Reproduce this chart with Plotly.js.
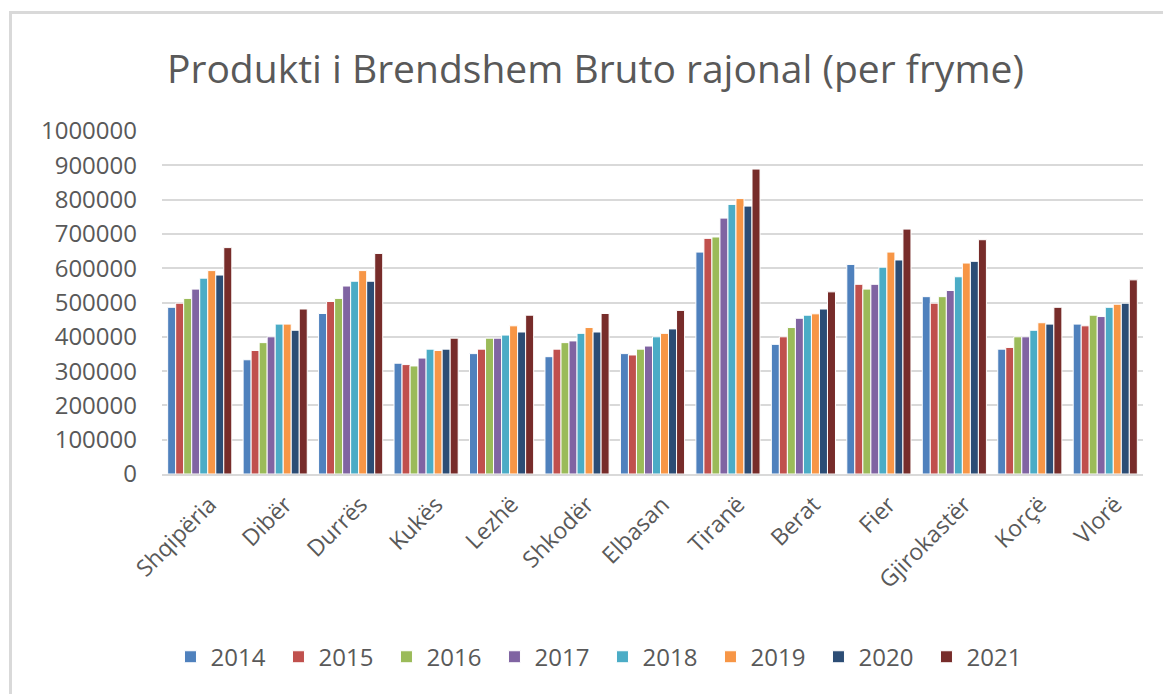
<!DOCTYPE html>
<html>
<head>
<meta charset="utf-8">
<script src="https://cdn.plot.ly/plotly-3.0.1.min.js"></script>
<style>
html,body{margin:0;padding:0;background:#fff;}
#wrap{position:relative;width:1163px;height:694px;overflow:hidden;}
#chart{position:absolute;left:0;top:0;width:1163px;height:694px;}
#frame{position:absolute;left:9px;top:11px;width:1200px;height:700px;border-left:3px solid #D9D9D9;border-top:3px solid #D9D9D9;pointer-events:none;}
</style>
</head>
<body>
<div id="wrap"><div id="chart"></div><div id="frame"></div></div>
<script>
const categories = ["Shqipëria","Dibër","Durrës","Kukës","Lezhë","Shkodër","Elbasan","Tiranë","Berat","Fier","Gjirokastër","Korçë","Vlorë"];
const years = ["2014","2015","2016","2017","2018","2019","2020","2021"];
const v2014 = [486000,333000,468000,323000,351000,342000,351000,647000,378000,611000,517000,364000,437000];
const v2015 = [498000,360000,503000,319000,364000,364000,347000,687000,400000,553000,498000,369000,432000];
const v2016 = [512000,383000,512000,315000,396000,383000,364000,691000,427000,539000,517000,400000,463000];
const v2017 = [539000,400000,548000,338000,396000,388000,373000,746000,454000,553000,535000,400000,459000];
const v2018 = [571000,437000,562000,364000,405000,410000,400000,786000,463000,603000,575000,419000,486000];
const v2019 = [593000,437000,593000,360000,432000,427000,410000,803000,467000,647000,615000,441000,495000];
const v2020 = [580000,419000,562000,364000,414000,414000,423000,781000,481000,624000,620000,437000,498000];
const v2021 = [660000,481000,643000,396000,463000,468000,477000,889000,531000,714000,683000,486000,566000];
const seriesValues = [v2014,v2015,v2016,v2017,v2018,v2019,v2020,v2021];
const colors = ["#4F81BD","#C0504D","#9BBB59","#8064A2","#4BACC6","#F79646","#2C4D75","#772C2A"];

const FONT = "Open Sans, Noto Sans, sans-serif";
const traces = years.map((y,i)=>({
  type:"bar", name:y, x:categories, y:seriesValues[i],
  marker:{color:colors[i], line:{color:"#ffffff", width:1}},
  hoverinfo:"x+y+name"
}));

const layout = {
  width:1163, height:694,
  margin:{l:162, r:20, t:131, b:220},
  paper_bgcolor:"#ffffff", plot_bgcolor:"#ffffff",
  barmode:"group", bargap:0.15, bargroupgap:0,
  font:{family:FONT, color:"#595959", size:24},
  title:{text:"Produkti i Brendshem Bruto rajonal (per fryme)", xref:"container", x:0.512, xanchor:"center", yref:"container", y:0.9, yanchor:"middle", font:{family:FONT, size:39, color:"#595959"}},
  xaxis:{type:"category", tickangle:-45, showgrid:false, showline:true, linecolor:"#D9D9D9", linewidth:2, ticks:"", ticklabelshift:10, ticklabelstandoff:6, tickfont:{family:FONT, size:23, color:"#595959"}, automargin:false},
  yaxis:{range:[0,1000000], dtick:100000, tick0:0, tickformat:"d", showgrid:true, gridcolor:"#D9D9D9", gridwidth:2, zeroline:false, showline:false, ticks:"", ticklabelstandoff:24, tickfont:{family:FONT, size:24, color:"#595959"}, automargin:false},
  showlegend:true,
  legend:{orientation:"h", x:0.449, xanchor:"center", y:-0.534, yanchor:"middle", font:{family:FONT, size:24, color:"#595959"}, itemwidth:30, entrywidth:63, traceorder:"normal", bgcolor:"rgba(0,0,0,0)"}
};
Plotly.newPlot("chart", traces, layout, {displayModeBar:false, staticPlot:true});
</script>
</body>
</html>
